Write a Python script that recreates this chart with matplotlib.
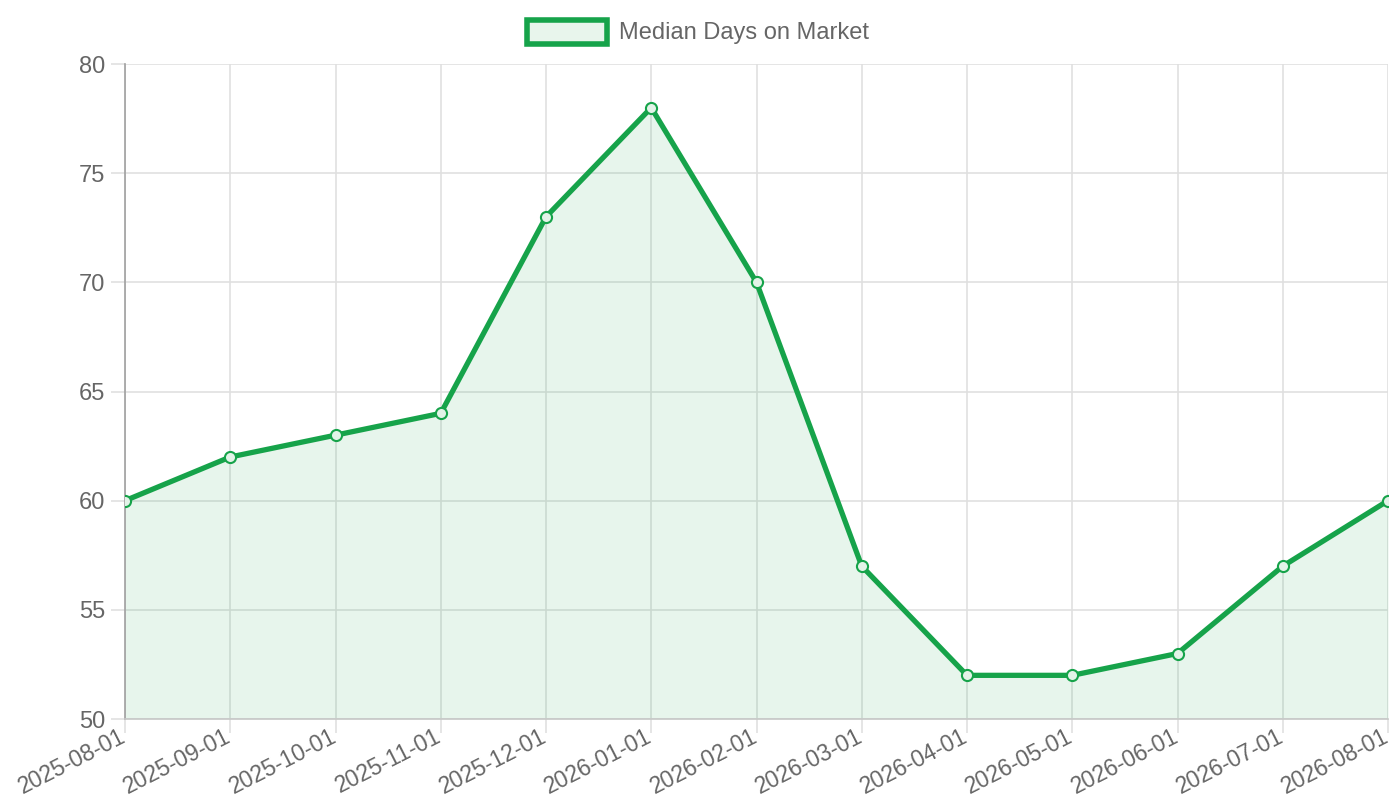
import numpy as np
import matplotlib.pyplot as plt
from matplotlib.transforms import ScaledTranslation

plt.rcParams['font.family'] = ['Liberation Sans', 'DejaVu Sans']

dates = ['2025-08-01', '2025-09-01', '2025-10-01', '2025-11-01', '2025-12-01',
         '2026-01-01', '2026-02-01', '2026-03-01', '2026-04-01', '2026-05-01',
         '2026-06-01', '2026-07-01', '2026-08-01']
median_days = [60, 62, 63, 64, 73, 78, 70, 57, 52, 52, 53, 57, 60]
y_ticks = [50, 55, 60, 65, 70, 75, 80]

green = '#16a34a'
text_col = '#666666'
grid_col = '#e0e0e0'

fig = plt.figure(figsize=(14, 8), dpi=100)
ax = fig.add_axes([125 / 1400, 1 - 719 / 800, (1388 - 125) / 1400, (719 - 64) / 800])

x = np.arange(len(dates))
ax.fill_between(x, median_days, 50, color=green, alpha=0.1, linewidth=0, zorder=2)
ax.plot(x, median_days, color=green, linewidth=3.8, solid_joinstyle='miter', zorder=3)
ax.plot(x, median_days, linestyle='none', marker='o', markersize=8,
        markerfacecolor='#e3f3e8', markeredgecolor=green, markeredgewidth=1.5, zorder=4)

ax.set_xlim(0, len(dates) - 1)
ax.set_ylim(50, 80)
ax.set_xticks(x)
ax.set_xticklabels([])
ax.set_yticks(y_ticks)

# rotated date labels hanging from the tick ends (chart.js style)
shift = ScaledTranslation(-6 / 100, -6 / 100, fig.dpi_scale_trans)
for xi, d in zip(x, dates):
    ax.text(xi, 0, d, transform=ax.get_xaxis_transform() + shift,
            rotation=27, rotation_mode='anchor', ha='right', va='top',
            fontsize=16.5, color=text_col, clip_on=False)

ax.grid(True, color=grid_col, linewidth=1.2, zorder=1)
ax.set_axisbelow(True)
ax.tick_params(axis='both', colors=grid_col, labelcolor=text_col, labelsize=17,
               length=10, width=1.2)
ax.tick_params(axis='y', pad=4)
for side in ['top', 'right']:
    ax.spines[side].set_visible(False)
ax.spines['left'].set_color('#a0a0a0')
ax.spines['bottom'].set_color('#c8c8c8')
ax.spines['left'].set_linewidth(1.2)
ax.spines['bottom'].set_linewidth(1.2)

# legend box drawn like the chart.js swatch
fig.patches.append(plt.Rectangle((527 / 1400, 1 - 44 / 800), 80 / 1400, 24 / 800,
                                 transform=fig.transFigure, facecolor='#e8f5ec',
                                 edgecolor=green, linewidth=4))
fig.text(619 / 1400, 1 - 33 / 800, 'Median Days on Market', color=text_col,
         fontsize=17, va='center', ha='left')

fig.savefig('out.png', dpi=100)
